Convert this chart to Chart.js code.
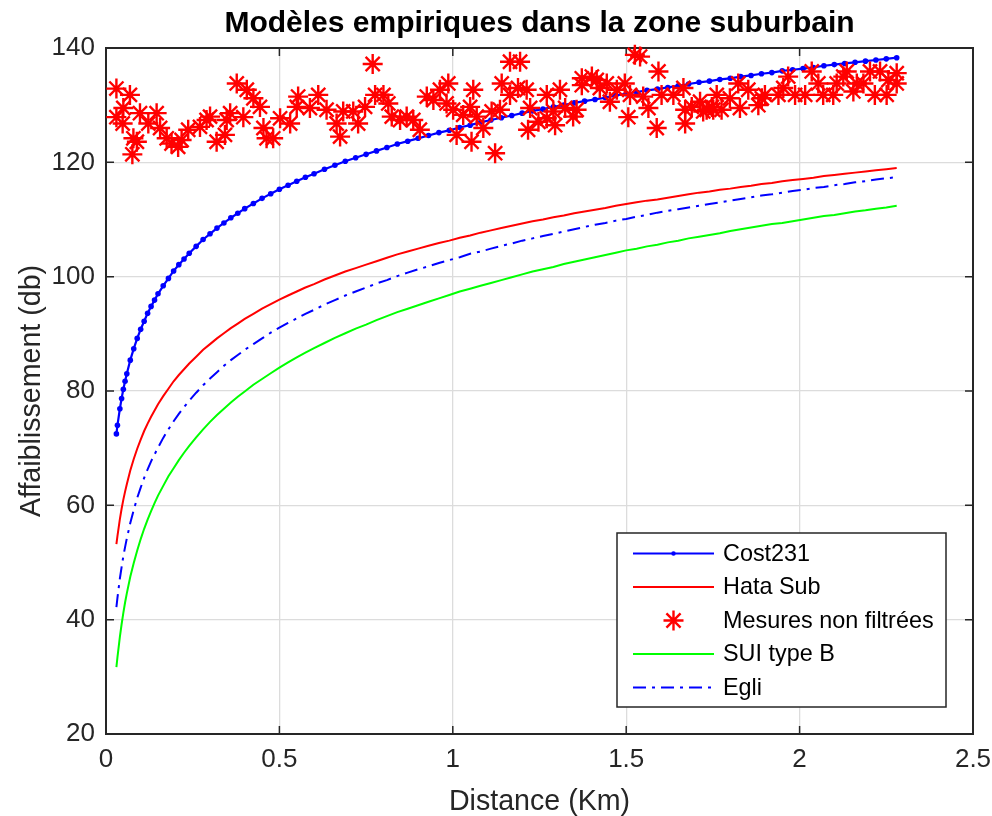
<!DOCTYPE html>
<html><head><meta charset="utf-8">
<script src="https://cdn.jsdelivr.net/npm/chart.js@4.4.0/dist/chart.umd.min.js"></script>
<style>html,body{margin:0;padding:0;background:#fff;}</style>
</head><body>
<canvas id="c" width="992" height="816"></canvas>
<script>
// ---------- data ----------
const modelDist = [0.030,0.033,0.040,0.045,0.050,0.055,0.060,0.070,0.080,0.090,
0.100,0.110,0.120,0.130,0.140,0.150,0.165,0.180,0.195,0.210,
0.225,0.240,0.260,0.280,0.300,0.320,0.340,0.360,0.380,0.400,
0.425,0.450,0.475,0.500,0.525,0.550,0.575,0.600,0.630,0.660,
0.690,0.720,0.750,0.780,0.810,0.840,0.870,0.900,0.930,0.960,
0.990,1.020,1.050,1.080,1.110,1.140,1.170,1.200,1.230,1.260,
1.290,1.320,1.350,1.380,1.410,1.440,1.470,1.500,1.530,1.560,
1.590,1.620,1.650,1.680,1.710,1.740,1.770,1.800,1.830,1.860,
1.890,1.920,1.950,1.980,2.010,2.040,2.070,2.100,2.130,2.160,
2.190,2.220,2.250,2.280];

const cost231 = [72.5,74.0,76.9,78.7,80.3,81.7,83.0,85.4,87.4,89.2,
90.8,92.2,93.6,94.8,95.9,97.0,98.4,99.7,101.0,102.1,
103.1,104.1,105.3,106.5,107.5,108.5,109.4,110.3,111.1,111.9,
112.8,113.7,114.5,115.3,116.0,116.7,117.4,118.0,118.8,119.5,
120.2,120.8,121.4,122.0,122.6,123.2,123.7,124.2,124.7,125.2,
125.6,126.1,126.5,127.0,127.4,127.8,128.2,128.6,129.0,129.3,
129.7,130.0,130.4,130.7,131.0,131.3,131.7,132.0,132.3,132.6,
132.8,133.1,133.4,133.7,134.0,134.2,134.5,134.7,135.0,135.2,
135.5,135.7,136.0,136.2,136.4,136.6,136.9,137.1,137.3,137.5,
137.7,137.9,138.1,138.3];

const hataSub = [53.2,54.6,57.6,59.4,61.0,62.4,63.7,66.1,68.1,69.9,
71.5,73.0,74.3,75.5,76.6,77.7,79.1,80.4,81.7,82.8,
83.8,84.8,86.0,87.2,88.2,89.2,90.1,91.0,91.8,92.6,
93.5,94.4,95.2,96.0,96.7,97.4,98.1,98.7,99.5,100.2,
100.9,101.5,102.1,102.7,103.3,103.9,104.4,104.9,105.4,105.9,
106.3,106.8,107.2,107.7,108.1,108.5,108.9,109.3,109.7,110.0,
110.4,110.7,111.1,111.4,111.7,112.0,112.4,112.7,113.0,113.3,
113.5,113.8,114.1,114.4,114.7,114.9,115.2,115.4,115.7,115.9,
116.2,116.4,116.7,116.9,117.1,117.3,117.6,117.8,118.0,118.2,
118.4,118.6,118.8,119.0];

const suiTypeB = [31.7,33.4,37.0,39.2,41.2,43.0,44.6,47.5,49.9,52.1,
54.1,55.9,57.5,59.0,60.4,61.7,63.4,65.1,66.5,67.9,
69.2,70.4,71.9,73.3,74.6,75.8,76.9,78.0,79.0,79.9,
81.1,82.1,83.1,84.1,85.0,85.9,86.7,87.5,88.4,89.3,
90.1,90.9,91.6,92.4,93.1,93.8,94.4,95.0,95.6,96.2,
96.8,97.4,97.9,98.4,98.9,99.4,99.9,100.4,100.9,101.3,
101.7,102.2,102.6,103.0,103.4,103.8,104.2,104.6,104.9,105.3,
105.6,106.0,106.3,106.7,107.0,107.3,107.6,108.0,108.3,108.6,
108.9,109.2,109.4,109.7,110.0,110.3,110.6,110.8,111.1,111.4,
111.6,111.9,112.1,112.4];

const egli = [42.2,43.8,47.2,49.2,51.1,52.7,54.2,56.9,59.2,61.3,
63.1,64.8,66.3,67.7,68.9,70.1,71.8,73.3,74.7,76.0,
77.2,78.3,79.7,81.0,82.2,83.3,84.4,85.4,86.3,87.2,
88.2,89.2,90.2,91.1,91.9,92.7,93.5,94.2,95.1,95.9,
96.7,97.4,98.1,98.8,99.4,100.1,100.7,101.3,101.8,102.4,
102.9,103.4,104.0,104.4,104.9,105.4,105.8,106.3,106.7,107.1,
107.5,107.9,108.3,108.7,109.1,109.4,109.8,110.1,110.5,110.8,
111.2,111.5,111.8,112.1,112.4,112.7,113.0,113.3,113.6,113.9,
114.2,114.4,114.7,115.0,115.2,115.5,115.7,116.0,116.2,116.5,
116.7,117.0,117.2,117.4];

const measDist = [0.030,0.030,0.048,0.050,0.069,0.076,0.079,0.089,0.098,0.122,
0.146,0.156,0.175,0.189,0.208,0.218,0.237,0.271,0.290,0.300,
0.319,0.343,0.348,0.358,0.377,0.396,0.406,0.425,0.444,0.454,
0.463,0.482,0.502,0.531,0.550,0.554,0.588,0.612,0.636,0.665,
0.675,0.684,0.713,0.727,0.747,0.769,0.776,0.800,0.814,0.824,
0.848,0.867,0.886,0.905,0.925,0.944,0.963,0.982,0.987,1.001,
1.011,1.030,1.050,1.054,1.059,1.069,1.088,1.112,1.122,1.136,
1.141,1.165,1.165,1.188,1.194,1.213,1.217,1.223,1.247,1.271,
1.271,1.290,1.295,1.309,1.324,1.347,1.357,1.372,1.372,1.401,
1.415,1.424,1.444,1.453,1.473,1.496,1.506,1.511,1.525,1.540,
1.549,1.564,1.588,1.593,1.602,1.636,1.665,1.670,1.670,1.689,
1.713,1.722,1.732,1.747,1.751,1.761,1.775,1.799,1.823,1.828,
1.852,1.881,1.891,1.900,1.939,1.953,1.967,1.987,2.016,2.035,
2.054,2.068,2.097,2.107,2.126,2.136,2.155,2.165,2.184,2.203,
2.217,2.232,2.251,2.256,2.280,2.280];

const measLoss = [132.9,127.9,126.8,129.5,131.8,121.4,124.2,123.6,128.6,126.8,
128.6,126.0,124.2,123.3,122.7,123.9,125.7,126.2,127.4,128.0,
123.6,124.8,127.4,128.6,133.8,127.9,132.7,131.2,129.7,126.0,
124.2,124.2,127.7,126.8,129.7,131.5,129.5,131.8,129.2,126.8,
124.5,128.9,128.9,126.8,129.7,137.2,131.8,131.8,130.3,128.0,
127.4,128.0,127.4,125.7,131.5,130.9,132.7,130.3,133.8,129.2,
124.8,128.3,129.7,123.6,132.7,128.0,126.0,128.9,121.6,129.2,
133.8,131.8,137.6,133.0,137.6,132.7,125.7,129.5,127.1,131.8,
127.7,128.9,126.5,132.7,129.5,128.0,129.2,134.7,133.5,135.0,
134.4,133.0,133.8,130.6,132.7,133.8,127.9,131.8,138.8,138.5,
131.5,129.5,126.0,135.9,131.8,131.8,133.0,129.2,126.8,129.7,
130.6,128.9,129.2,129.7,129.2,131.8,129.2,131.2,133.8,129.5,
132.7,130.0,131.2,131.8,131.8,133.0,135.0,131.8,131.8,135.9,
133.8,131.8,131.8,133.8,135.0,135.9,132.4,133.8,133.8,135.9,
131.8,135.9,131.8,134.4,133.8,135.6];

const xTicks = [0, 0.5, 1, 1.5, 2, 2.5];
const yTicks = [20, 40, 60, 80, 100, 120, 140];
const xTickLabels = ['0', '0.5', '1', '1.5', '2', '2.5'];
const seriesNames = ['Cost231', 'Hata Sub', 'Mesures non filtrées', 'SUI type B', 'Egli'];
const titleText = 'Modèles empiriques dans la zone suburbain';
const xLabel = 'Distance (Km)';
const yLabel = 'Affaiblissement (db)';

// ---------- chart ----------
const FONT = '"Liberation Sans", Arial, Helvetica, sans-serif';
Chart.defaults.font.family = FONT;
const pts = (xs, ys) => xs.map((x, i) => ({x, y: ys[i]}));

const framePlugin = {
  id: 'matlabFrame',
  beforeDatasetsDraw(chart) {
    const {ctx, chartArea: a, scales: {x, y}} = chart;
    ctx.save();
    ctx.strokeStyle = '#262626';
    ctx.lineWidth = 1.5;
    const tl = 8;
    ctx.beginPath();
    xTicks.forEach(v => { const px = x.getPixelForValue(v);
      ctx.moveTo(px, a.bottom); ctx.lineTo(px, a.bottom - tl);
      ctx.moveTo(px, a.top); ctx.lineTo(px, a.top + tl); });
    yTicks.forEach(v => { const py = y.getPixelForValue(v);
      ctx.moveTo(a.left, py); ctx.lineTo(a.left + tl, py);
      ctx.moveTo(a.right, py); ctx.lineTo(a.right - tl, py); });
    ctx.stroke();
    ctx.lineWidth = 2;
    ctx.strokeRect(a.left, a.top, a.right - a.left, a.bottom - a.top);
    ctx.restore();
  }
};

function drawStar(ctx, cx, cy, r) {
  ctx.beginPath();
  for (let k = 0; k < 4; k++) {
    const ang = k * Math.PI / 4;
    const dx = Math.cos(ang) * r, dy = Math.sin(ang) * r;
    ctx.moveTo(cx - dx, cy - dy); ctx.lineTo(cx + dx, cy + dy);
  }
  ctx.stroke();
}

const legendPlugin = {
  id: 'boxLegend',
  afterDraw(chart) {
    const ctx = chart.ctx;
    const x0 = 617, y0 = 533, x1 = 946, y1 = 707;
    ctx.save();
    ctx.fillStyle = '#ffffff';
    ctx.fillRect(x0, y0, x1 - x0, y1 - y0);
    ctx.strokeStyle = '#262626';
    ctx.lineWidth = 1.5;
    ctx.strokeRect(x0, y0, x1 - x0, y1 - y0);
    chart.data.datasets.forEach((ds, i) => {
      const y = 553.5 + i * 33.5;
      const lx0 = 633, lx1 = 714, cx = (lx0 + lx1) / 2;
      ctx.strokeStyle = ds.borderColor;
      ctx.fillStyle = ds.borderColor;
      if (ds.showLine) {
        ctx.setLineDash(ds.borderDash || []);
        ctx.lineWidth = ds.borderWidth;
        ctx.beginPath(); ctx.moveTo(lx0, y); ctx.lineTo(lx1, y); ctx.stroke();
        ctx.setLineDash([]);
      }
      if (ds.pointStyle === 'star') {
        ctx.lineWidth = ds.pointBorderWidth;
        drawStar(ctx, cx, y, ds.pointRadius);
      } else if (ds.pointRadius > 0) {
        ctx.beginPath(); ctx.arc(cx, y, ds.pointRadius * 0.8, 0, Math.PI * 2); ctx.fill();
      }
      ctx.fillStyle = '#000';
      ctx.font = '23.4px ' + FONT;
      ctx.textBaseline = 'middle';
      ctx.textAlign = 'left';
      ctx.fillText(ds.label, 723, y + 1);
    });
    ctx.restore();
  }
};

new Chart(document.getElementById('c'), {
  type: 'scatter',
  data: {
    datasets: [
      { label: seriesNames[0], data: pts(modelDist, cost231), showLine: true,
        borderColor: '#0000ff', backgroundColor: '#0000ff', borderWidth: 2.2,
        pointRadius: 2.8, pointBorderWidth: 0, pointBackgroundColor: '#0000ff', order: 5 },
      { label: seriesNames[1], data: pts(modelDist, hataSub), showLine: true,
        borderColor: '#ff0000', backgroundColor: '#ff0000', borderWidth: 2,
        pointRadius: 0, order: 4 },
      { label: seriesNames[2], data: pts(measDist, measLoss), showLine: false,
        borderColor: '#ff0000', backgroundColor: '#ff0000', borderWidth: 2.4,
        pointStyle: 'star', pointRadius: 10, pointBorderColor: '#ff0000',
        pointBorderWidth: 2.4, clip: false, order: 3 },
      { label: seriesNames[3], data: pts(modelDist, suiTypeB), showLine: true,
        borderColor: '#00ff00', backgroundColor: '#00ff00', borderWidth: 2,
        pointRadius: 0, order: 2 },
      { label: seriesNames[4], data: pts(modelDist, egli), showLine: true,
        borderColor: '#0000ff', backgroundColor: '#0000ff', borderWidth: 2,
        borderDash: [13, 6, 3, 6], pointRadius: 0, order: 1 }
    ]
  },
  options: {
    responsive: false,
    animation: false,
    devicePixelRatio: 1,
    layout: { padding: { left: 0, right: 19, top: 0, bottom: 0 } },
    plugins: {
      legend: { display: false },
      tooltip: { enabled: false },
      title: { display: true, text: titleText, fullSize: false, color: '#000',
        font: { size: 30, weight: 'bold', lineHeight: 1.2 },
        padding: { top: 6, bottom: 6 } }
    },
    scales: {
      x: {
        type: 'linear', min: 0, max: 2.5,
        afterBuildTicks: s => { s.ticks = xTicks.map(v => ({value: v})); },
        afterFit: s => { s.height = 82; s.paddingLeft = 0; s.paddingRight = 0; },
        ticks: { color: '#262626', font: { size: 26 }, padding: 10,
          callback: (v) => { const i = xTicks.indexOf(v); return i >= 0 ? xTickLabels[i] : ''; } },
        grid: { color: '#dcdcdc', lineWidth: 1.3, drawTicks: false },
        border: { display: false },
        title: { display: true, text: xLabel, color: '#262626',
          font: { size: 28.6, lineHeight: 1 }, padding: { top: 0, bottom: 0 } }
      },
      y: {
        type: 'linear', min: 20, max: 140,
        afterBuildTicks: s => { s.ticks = yTicks.map(v => ({value: v})); },
        afterFit: s => { s.width = 106; s.paddingTop = 0; s.paddingBottom = 0; },
        ticks: { color: '#262626', font: { size: 26 }, padding: 11 },
        grid: { color: '#dcdcdc', lineWidth: 1.3, drawTicks: false },
        border: { display: false },
        title: { display: true, text: yLabel, color: '#262626',
          font: { size: 28.6, lineHeight: 1 }, padding: { top: 18, bottom: 0 } }
      }
    }
  },
  plugins: [framePlugin, legendPlugin]
});
</script>
</body></html>
